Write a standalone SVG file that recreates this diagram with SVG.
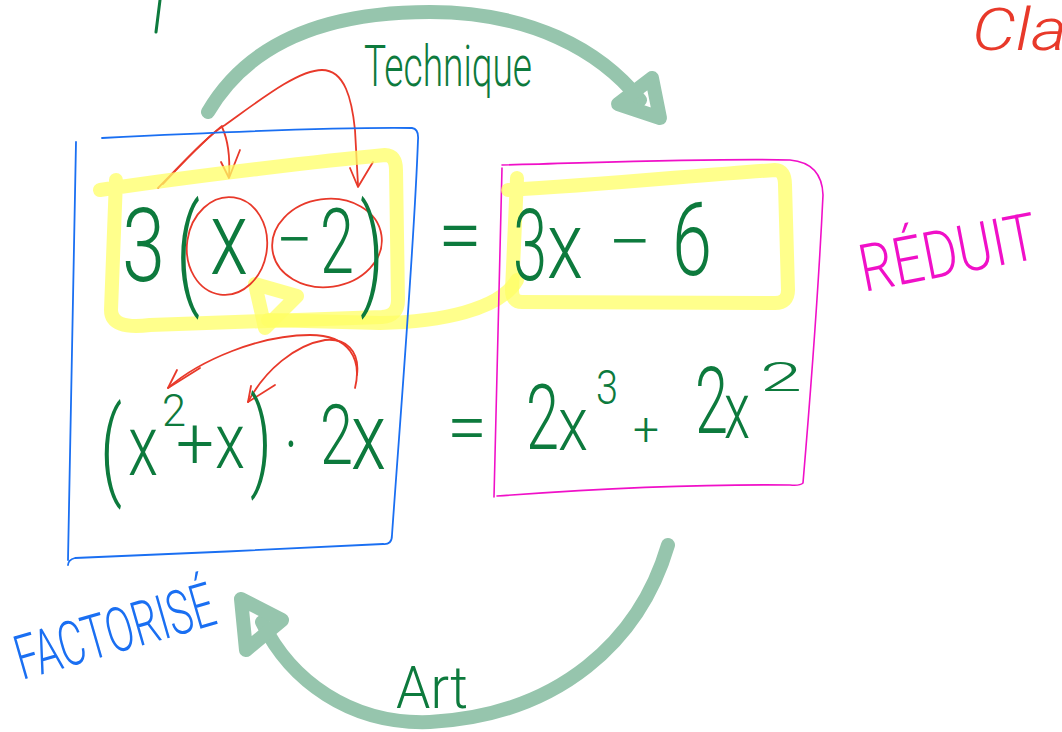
<svg xmlns="http://www.w3.org/2000/svg" width="1062" height="732" viewBox="0 0 1062 732">
<style>
.bg{fill:#ffffff}
.cyc{fill:none;stroke:#96c5ad;stroke-width:14;stroke-linecap:round;stroke-linejoin:round}
.hl{fill:none;stroke:#ffff66;stroke-opacity:0.75;stroke-width:14;stroke-linecap:round;stroke-linejoin:round}
.red{fill:none;stroke:#e8392a;stroke-width:1.8;stroke-linecap:round;stroke-linejoin:round}
.blue{fill:none;stroke:#1a6ff2;stroke-width:1.8;stroke-linecap:round;stroke-linejoin:round}
.mag{fill:none;stroke:#f010c8;stroke-width:1.6;stroke-linecap:round;stroke-linejoin:round}
.gs{fill:none;stroke:#0d7a3d;stroke-width:3;stroke-linecap:round}
.m{font-family:Roboto,"Liberation Sans",sans-serif;font-weight:300;fill:#0d7a3d}
.lbl{font-family:Roboto,"Liberation Sans",sans-serif;font-weight:300}
</style>
<rect class="bg" x="0" y="0" width="1062" height="732"/>

<g id="fragments">
<path class="gs" d="M160,0 L156,32"/>
<text class="lbl" x="972" y="50" font-size="60" font-style="italic" fill="#e8392a" textLength="95" lengthAdjust="spacingAndGlyphs">Cla</text>
</g>

<g id="connectors">
<path id="technique-arc" class="cyc" d="M208,112 C 250,40 330,12 430,12 C 530,12 600,50 640,100"/>
<path class="cyc" d="M618,104 L652,78 L660,118 Z"/>
<path id="art-arc" class="cyc" d="M668,545 C 640,640 560,715 430,722 C 350,725 290,680 262,622"/>
<path class="cyc" d="M241,599 L282,620 L246,650 Z"/>
<path id="yellow-arrow" class="hl" d="M517,280 C 500,310 440,322 380,323 L268,320"/>
<path class="hl" d="M255,284 L297,296 L265,328 Z"/>
<path class="red" d="M158,188 C 190,155 212,132 225,125 C 260,100 298,70 322,70 C 345,70 352,100 355,130 L358,185"/>
<path class="red" d="M163,184 C 185,160 205,140 222,126"/>
<path class="red" d="M350,168 L358,187 L373,162"/>
<path class="red" d="M222,127 C 228,140 230,160 229,177"/>
<path class="red" d="M221,162 L229,178 L240,150"/>
<path class="red" d="M355,388 C 362,360 350,335 310,335 C 260,335 200,360 168,388"/>
<path class="red" d="M177,370 L168,388 L200,368"/>
<path class="red" d="M357,375 C 360,350 345,338 325,340 C 295,345 265,370 248,402"/>
<path class="red" d="M251,386 L248,402 L275,385"/>
</g>

<g id="factorise">
<path class="blue" d="M102,138 C 200,133 330,127 412,128 Q419,129 418,140 C 414,250 400,420 392,535 Q392,545 383,544 C 300,548 160,555 75,558 Q68,560 68,565"/>
<path class="blue" d="M76,142 L68,560"/>
<text class="lbl" transform="translate(22,680) rotate(-16)" font-size="62" fill="#1a6ff2" textLength="205" lengthAdjust="spacingAndGlyphs">FACTORISÉ</text>
</g>

<g id="reduit">
<path class="mag" d="M502,165 C 620,162 720,158 790,160 Q822,163 823,195 C 818,300 810,400 803,483 Q800,486 790,485 C 700,484 580,490 497,496"/>
<path class="mag" d="M502,168 L494,497"/>
<text class="lbl" transform="translate(864,292) rotate(-11)" font-size="66" fill="#f010c8" textLength="180" lengthAdjust="spacingAndGlyphs">RÉDUIT</text>
</g>

<g id="highlight-left">
<path class="hl" d="M100,190 C 200,175 330,160 385,155 Q396,155 396,170 L398,300 Q398,316 382,317 L150,325 Q111,330 111,310 L116,180"/>
</g>
<g id="highlight-right">
<path class="hl" d="M508,190 C 600,185 700,175 775,170 Q785,170 785,185 L788,290 Q788,303 775,303 L522,302 Q512,302 512,290 L517,178"/>
</g>

<g id="circles">
<ellipse class="red" cx="227" cy="246" rx="40" ry="49" transform="rotate(8 227 246)"/>
<ellipse class="red" cx="327" cy="243" rx="55" ry="44" transform="rotate(-8 327 243)"/>
</g>

<g id="row1">
<text class="m" x="122" y="281" font-size="102" textLength="43" lengthAdjust="spacingAndGlyphs">3</text>
<text class="m" x="176" y="292" font-size="120" textLength="24" lengthAdjust="spacingAndGlyphs">(</text>
<text class="m" x="210" y="274" font-size="104" textLength="38" lengthAdjust="spacingAndGlyphs">x</text>
<text class="m" x="276" y="264" font-size="70" textLength="37" lengthAdjust="spacingAndGlyphs">−</text>
<text class="m" x="320" y="273" font-size="90" textLength="34" lengthAdjust="spacingAndGlyphs">2</text>
<text class="m" x="360" y="292" font-size="120" textLength="24" lengthAdjust="spacingAndGlyphs">)</text>
<text class="m" x="438" y="262" font-size="80" textLength="44" lengthAdjust="spacingAndGlyphs">=</text>
<text class="m" x="513" y="280" font-size="100" textLength="34" lengthAdjust="spacingAndGlyphs">3</text>
<text class="m" x="547" y="278" font-size="95" textLength="36" lengthAdjust="spacingAndGlyphs">x</text>
<text class="m" x="608" y="266" font-size="70" textLength="44" lengthAdjust="spacingAndGlyphs">−</text>
<text class="m" x="672" y="275" font-size="102" textLength="40" lengthAdjust="spacingAndGlyphs">6</text>
</g>

<g id="row2">
<text class="m" x="100" y="485" font-size="108" textLength="22" lengthAdjust="spacingAndGlyphs">(</text>
<text class="m" x="128" y="475" font-size="86" textLength="30" lengthAdjust="spacingAndGlyphs">x</text>
<text class="m" x="162" y="426" font-size="45" textLength="24" lengthAdjust="spacingAndGlyphs">2</text>
<text class="m" x="176" y="468" font-size="72" textLength="38" lengthAdjust="spacingAndGlyphs">+</text>
<text class="m" x="215" y="468" font-size="78" textLength="30" lengthAdjust="spacingAndGlyphs">x</text>
<text class="m" x="250" y="476" font-size="108" textLength="22" lengthAdjust="spacingAndGlyphs">)</text>
<text class="m" x="284" y="472" font-size="80" textLength="14" lengthAdjust="spacingAndGlyphs">·</text>
<text class="m" x="320" y="464" font-size="84" textLength="33" lengthAdjust="spacingAndGlyphs">2</text>
<text class="m" x="351" y="469" font-size="95" textLength="35" lengthAdjust="spacingAndGlyphs">x</text>
<text class="m" x="447" y="452" font-size="72" textLength="40" lengthAdjust="spacingAndGlyphs">=</text>
<text class="m" x="526" y="449" font-size="90" textLength="33" lengthAdjust="spacingAndGlyphs">2</text>
<text class="m" x="558" y="450" font-size="76" textLength="30" lengthAdjust="spacingAndGlyphs">x</text>
<text class="m" x="596" y="404" font-size="48" textLength="22" lengthAdjust="spacingAndGlyphs">3</text>
<text class="m" x="633" y="445" font-size="46" textLength="26" lengthAdjust="spacingAndGlyphs">+</text>
<text class="m" x="695" y="433" font-size="92" textLength="33" lengthAdjust="spacingAndGlyphs">2</text>
<text class="m" x="724" y="438" font-size="80" textLength="26" lengthAdjust="spacingAndGlyphs">x</text>
<text class="m" x="760" y="391" font-size="40" textLength="42" lengthAdjust="spacingAndGlyphs">2</text>
</g>

<g id="labels">
<text class="lbl" x="364" y="86" font-size="58" fill="#0d7a3d" textLength="168" lengthAdjust="spacingAndGlyphs">Technique</text>
<text class="lbl" x="396" y="708" font-size="60" fill="#0d7a3d" textLength="72" lengthAdjust="spacingAndGlyphs">Art</text>
</g>
</svg>
